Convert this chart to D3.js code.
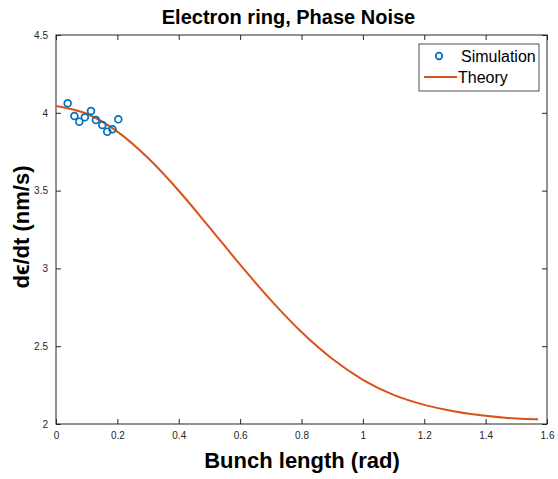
<!DOCTYPE html>
<html>
<head>
<meta charset="utf-8">
<script src="https://cdn.jsdelivr.net/npm/d3@7/dist/d3.min.js"></script>
<style>
  html, body { margin: 0; padding: 0; background: #fff; }
  svg { display: block; font-family: "Liberation Sans", Arial, Helvetica, sans-serif; }
</style>
</head>
<body>
<svg id="chart" width="558" height="479"></svg>
<script>
// Simulated emittance growth rate vs bunch length
const simX = [0.038, 0.060, 0.076, 0.094, 0.114, 0.130, 0.151, 0.167, 0.184, 0.203];
const simY = [4.061, 3.979, 3.943, 3.971, 4.012, 3.954, 3.922, 3.879, 3.894, 3.958];

// Theoretical curve, sampled along the bunch-length range (0 .. pi/2)
const theoryX = [0, 0.1, 0.2, 0.3, 0.4, 0.5, 0.6, 0.7, 0.8, 0.9, 1.0, 1.1, 1.2, 1.3, 1.4, 1.5, 1.571];
const theoryY = [4.044, 3.994, 3.879, 3.709, 3.499, 3.264, 3.024, 2.796, 2.591, 2.419, 2.284, 2.187, 2.123, 2.081, 2.053, 2.035, 2.030];

const xTicks = [0, 0.2, 0.4, 0.6, 0.8, 1, 1.2, 1.4, 1.6];
const xTickLabels = ["0", "0.2", "0.4", "0.6", "0.8", "1", "1.2", "1.4", "1.6"];
const yTicks = [2, 2.5, 3, 3.5, 4, 4.5];
const yTickLabels = ["2", "2.5", "3", "3.5", "4", "4.5"];

const seriesNames = ["Simulation", "Theory"];
const blue = "#0072BD", orange = "#D95319", axisColor = "#262626";

const svg = d3.select("#chart");
const L = 56, R = 547, T = 35, B = 424;

const x = d3.scaleLinear().domain([0, 1.6]).range([L, R]);
const y = d3.scaleLinear().domain([2, 4.5]).range([B, T]);

// Box and ticks on all four sides, pointing inward
function styleAxis(g) {
  g.select(".domain").remove();
  g.selectAll(".tick line").attr("stroke", axisColor).attr("stroke-width", 1);
  g.selectAll(".tick text").attr("fill", axisColor).style("font-size", "10px");
}
const xFmt = (d, i) => xTickLabels[i];
const yFmt = (d, i) => yTickLabels[i];

svg.append("g").attr("transform", `translate(0,${B})`)
  .call(d3.axisBottom(x).tickValues(xTicks).tickFormat(xFmt).tickSize(-5).tickPadding(8))
  .call(styleAxis);
svg.append("g").attr("transform", `translate(0,${T})`)
  .call(d3.axisTop(x).tickValues(xTicks).tickFormat("").tickSize(-5))
  .call(styleAxis);
svg.append("g").attr("transform", `translate(${L},0)`)
  .call(d3.axisLeft(y).tickValues(yTicks).tickFormat(yFmt).tickSize(-5).tickPadding(8))
  .call(styleAxis);
svg.append("g").attr("transform", `translate(${R},0)`)
  .call(d3.axisRight(y).tickValues(yTicks).tickFormat("").tickSize(-5))
  .call(styleAxis);

svg.append("rect")
  .attr("x", L).attr("y", T).attr("width", R - L).attr("height", B - T)
  .attr("fill", "none").attr("stroke", axisColor).attr("stroke-width", 1);

// Theory line
const line = d3.line().x(d => x(d[0])).y(d => y(d[1])).curve(d3.curveMonotoneX);
svg.append("path")
  .datum(theoryX.map((v, i) => [v, theoryY[i]]))
  .attr("d", line)
  .attr("fill", "none").attr("stroke", orange).attr("stroke-width", 2);

// Simulation markers
svg.append("g").selectAll("circle")
  .data(simX.map((v, i) => [v, simY[i]]))
  .join("circle")
  .attr("cx", d => x(d[0])).attr("cy", d => y(d[1])).attr("r", 3.4)
  .attr("fill", "none").attr("stroke", blue).attr("stroke-width", 1.7);

// Legend
const lg = svg.append("g");
lg.append("rect").attr("x", 419).attr("y", 44).attr("width", 120).attr("height", 47)
  .attr("fill", "#fff").attr("stroke", axisColor).attr("stroke-width", 0.8);
lg.append("circle").attr("cx", 439).attr("cy", 56).attr("r", 3.3)
  .attr("fill", "none").attr("stroke", blue).attr("stroke-width", 1.7);
lg.append("line").attr("x1", 424).attr("x2", 457).attr("y1", 77).attr("y2", 77)
  .attr("stroke", orange).attr("stroke-width", 2);
lg.append("text").attr("x", 461).attr("y", 62).text(seriesNames[0])
  .style("font-size", "16px").attr("fill", "#000");
lg.append("text").attr("x", 458).attr("y", 83).text(seriesNames[1])
  .style("font-size", "16px").attr("fill", "#000");

// Titles
svg.append("text").attr("x", 288.5).attr("y", 23.5).attr("text-anchor", "middle")
  .style("font-size", "20px").style("font-weight", "bold").text("Electron ring, Phase Noise");
svg.append("text").attr("x", 302).attr("y", 468).attr("text-anchor", "middle")
  .style("font-size", "22px").style("font-weight", "bold").text("Bunch length (rad)");
svg.append("text").attr("transform", `translate(29,227) rotate(-90)`)
  .attr("text-anchor", "middle")
  .style("font-size", "22px").style("font-weight", "bold").text("d\u03F5/dt (nm/s)");
</script>
</body>
</html>
